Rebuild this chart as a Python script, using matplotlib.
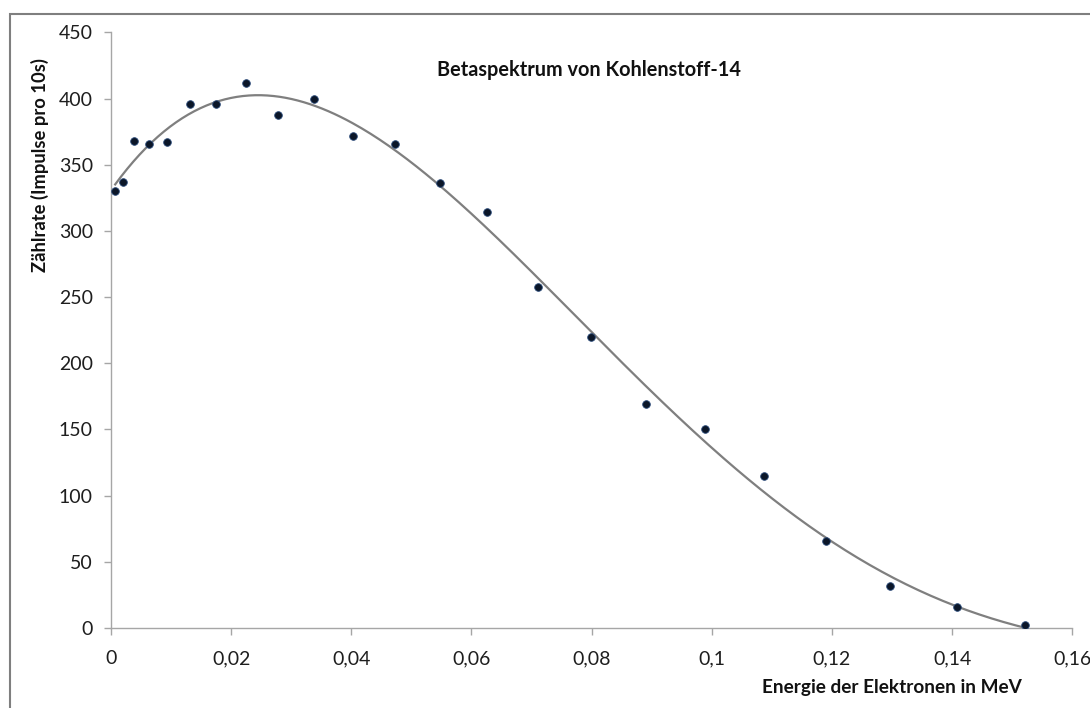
# Betaspektrum von Kohlenstoff-14 - Messpunkte mit Trendlinie
import numpy as np
import matplotlib.pyplot as plt
from matplotlib.patches import Rectangle

energie = [0.0007, 0.0020, 0.0038, 0.0063, 0.0094, 0.0132, 0.0175, 0.0224,
           0.0278, 0.0338, 0.0402, 0.0472, 0.0547, 0.0626, 0.0710, 0.0799,
           0.0891, 0.0988, 0.1087, 0.1190, 0.1297, 0.1408, 0.1521]
zaehlrate = [330, 337, 368, 366, 367, 396, 396, 412, 388, 400, 372, 366,
             336, 314, 258, 220, 169, 150, 115, 66, 32, 16, 2]

x_ticks = [0, 0.02, 0.04, 0.06, 0.08, 0.1, 0.12, 0.14, 0.16]
x_labels = ["0", "0,02", "0,04", "0,06", "0,08", "0,1", "0,12", "0,14", "0,16"]
y_ticks = [0, 50, 100, 150, 200, 250, 300, 350, 400, 450]

plt.rcParams['font.family'] = ['Lato', 'DejaVu Sans']

fig = plt.figure(figsize=(10.9, 7.08), dpi=100)
ax = fig.add_axes([0.1018, 0.1130, 0.8820, 0.8411])

# Polynom-Trendlinie 4. Ordnung (wie in Excel)
coef = np.polyfit(energie, zaehlrate, 4)
xs = np.linspace(energie[0], energie[-1], 300)
ax.plot(xs, np.polyval(coef, xs), color="#7f7f7f", lw=1.6, zorder=2)

ax.plot(energie, zaehlrate, "o", color="#0b1628", markeredgecolor="#2a4a7a",
        markeredgewidth=0.6, markersize=5.5, zorder=3)

ax.set_xlim(0, 0.16)
ax.set_ylim(0, 450)
ax.set_xticks(x_ticks)
ax.set_xticklabels(x_labels)
ax.set_yticks(y_ticks)

for side in ["top", "right"]:
    ax.spines[side].set_visible(False)
for side in ["left", "bottom"]:
    ax.spines[side].set_color("#a6a6a6")
    ax.spines[side].set_linewidth(1.0)
ax.tick_params(axis="both", colors="#a6a6a6", length=5, width=1.0,
               labelcolor="#1e1e1e", labelsize=14)
ax.tick_params(axis="x", pad=11)
ax.tick_params(axis="y", pad=8)

fig.text(589 / 1090, 1 - 70 / 708, "Betaspektrum von Kohlenstoff-14",
         ha="center", va="center", fontsize=14.3, fontweight="bold", color="#111111")
fig.text(40 / 1090, 1 - 165 / 708, "Zählrate (Impulse pro 10s)", rotation=90,
         ha="center", va="center", fontsize=13.2, fontweight="bold", color="#111111")
fig.text(1022 / 1090, 1 - 688 / 708, "Energie der Elektronen in MeV",
         ha="right", va="center", fontsize=13.7, fontweight="bold", color="#111111")

# Rahmen um die Grafik
fig.patches.append(Rectangle((10 / 1090, -0.1), 1.2, 1.1 - 14 / 708,
                             transform=fig.transFigure, fill=False,
                             edgecolor="#7f7f7f", lw=1.5))

fig.savefig("out.png", dpi=100)
